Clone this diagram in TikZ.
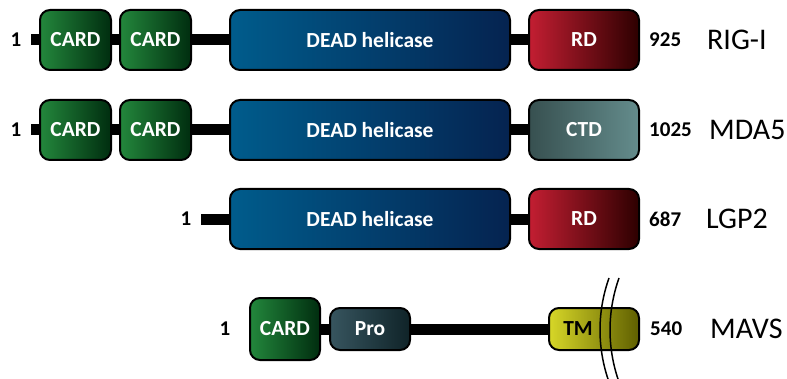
\documentclass[tikz,border=0pt]{standalone}
\usepackage{fontspec}
\setmainfont{Carlito}
\usetikzlibrary{positioning}
\usetikzlibrary{backgrounds}

\definecolor{cardL}{RGB}{35,135,60}
\definecolor{cardR}{RGB}{0,45,15}
\definecolor{deadL}{RGB}{0,92,140}
\definecolor{deadR}{RGB}{5,35,80}
\definecolor{rdL}{RGB}{195,30,50}
\definecolor{rdR}{RGB}{45,0,0}
\definecolor{ctdL}{RGB}{55,80,80}
\definecolor{ctdR}{RGB}{100,140,140}
\definecolor{proL}{RGB}{55,85,95}
\definecolor{proR}{RGB}{15,35,40}
\definecolor{tmL}{RGB}{215,215,40}
\definecolor{tmR}{RGB}{95,95,0}

\begin{document}
\begin{tikzpicture}[x=1pt,y=1pt]
        \tikzset{
          node distance=9pt,
          dombox/.style={
            draw,
            line width=2pt,
            rounded corners=10pt,
            minimum height=60pt,
            inner sep=0pt,
            outer sep=0pt,
            text=white,
            font=\fontsize{21.5}{24}\selectfont\bfseries,
          },
          card/.style={dombox, minimum width=71pt, left color=cardL, right color=cardR},
          helicase/.style={dombox, minimum width=280pt, left color=deadL, right color=deadR},
          rdbox/.style={dombox, minimum width=110pt, left color=rdL, right color=rdR},
          ctdbox/.style={dombox, minimum width=110pt, left color=ctdL, right color=ctdR},
          probox/.style={dombox, minimum width=80pt, minimum height=42pt, left color=proL, right color=proR},
          tmbox/.style={dombox, minimum width=90pt, minimum height=42pt, text=black, left color=tmL, right color=tmR},
          backbone/.style={line width=11pt},
          aa/.style={inner sep=0pt, font=\fontsize{21}{24}\selectfont\bfseries},
          protein/.style={anchor=west, inner sep=0pt, font=\fontsize{30}{34}\selectfont},
          membrane/.style={line width=1.5pt},
        }
        \useasboundingbox (0,0) rectangle (787,378);

        % RIG-I
        \node[card] (card1a) at (75.5,338) {CARD};
        \node[card, right=of card1a] (card1b) {CARD};
        \node[helicase, right=39pt of card1b] (dead1) {DEAD helicase};
        \node[rdbox, right=19pt of dead1] (rd1) {RD};
        \node[aa] (one1) at (16,338) {1};
        \node[aa, right=10pt of rd1] (end1) {925};
        \node[protein] (rig) at (707,338) {RIG-I};
        \coordinate (start1) at (31,338);

        % MDA5
        \node[card] (card2a) at (75.5,248) {CARD};
        \node[card, right=of card2a] (card2b) {CARD};
        \node[helicase, right=39pt of card2b] (dead2) {DEAD helicase};
        \node[ctdbox, right=19pt of dead2] (ctd2) {CTD};
        \node[aa] (one2) at (16,248) {1};
        \node[aa, right=10pt of ctd2] (end2) {1025};
        \node[protein] (mda) at (709,248) {MDA5};
        \coordinate (start2) at (31,248);

        % LGP2
        \node[helicase] (dead3) at (370,159) {DEAD helicase};
        \node[rdbox, right=19pt of dead3] (rd3) {RD};
        \node[aa] (one3) at (186,159) {1};
        \node[aa, right=10pt of rd3] (end3) {687};
        \node[protein] (lgp) at (706,159) {LGP2};
        \coordinate (start3) at (201,159);

        % MAVS
        \node[card, minimum width=70pt, minimum height=62pt] (card4) at (285,49) {CARD};
        \node[probox, right=10pt of card4] (pro4) {Pro};
        \node[tmbox] (tm4) at (594,49) {TM\hspace*{32pt}};
        \node[aa] (one4) at (225,49) {1};
        \node[aa, right=11pt of tm4] (end4) {540};
        \node[protein] (mavs) at (710,49) {MAVS};

        \begin{scope}[on background layer]
          \draw[backbone] (start1) -- (rd1);
          \draw[backbone] (start2) -- (ctd2);
          \draw[backbone] (start3) -- (rd3);
          \draw[backbone] (card4) -- (tm4);
        \end{scope}

        % membrane
        \draw[membrane] (609,100) .. controls (597,66) and (597,30) .. (609,-4);
        \draw[membrane] (619,100) .. controls (607,66) and (607,30) .. (619,-4);
\end{tikzpicture}
\end{document}
